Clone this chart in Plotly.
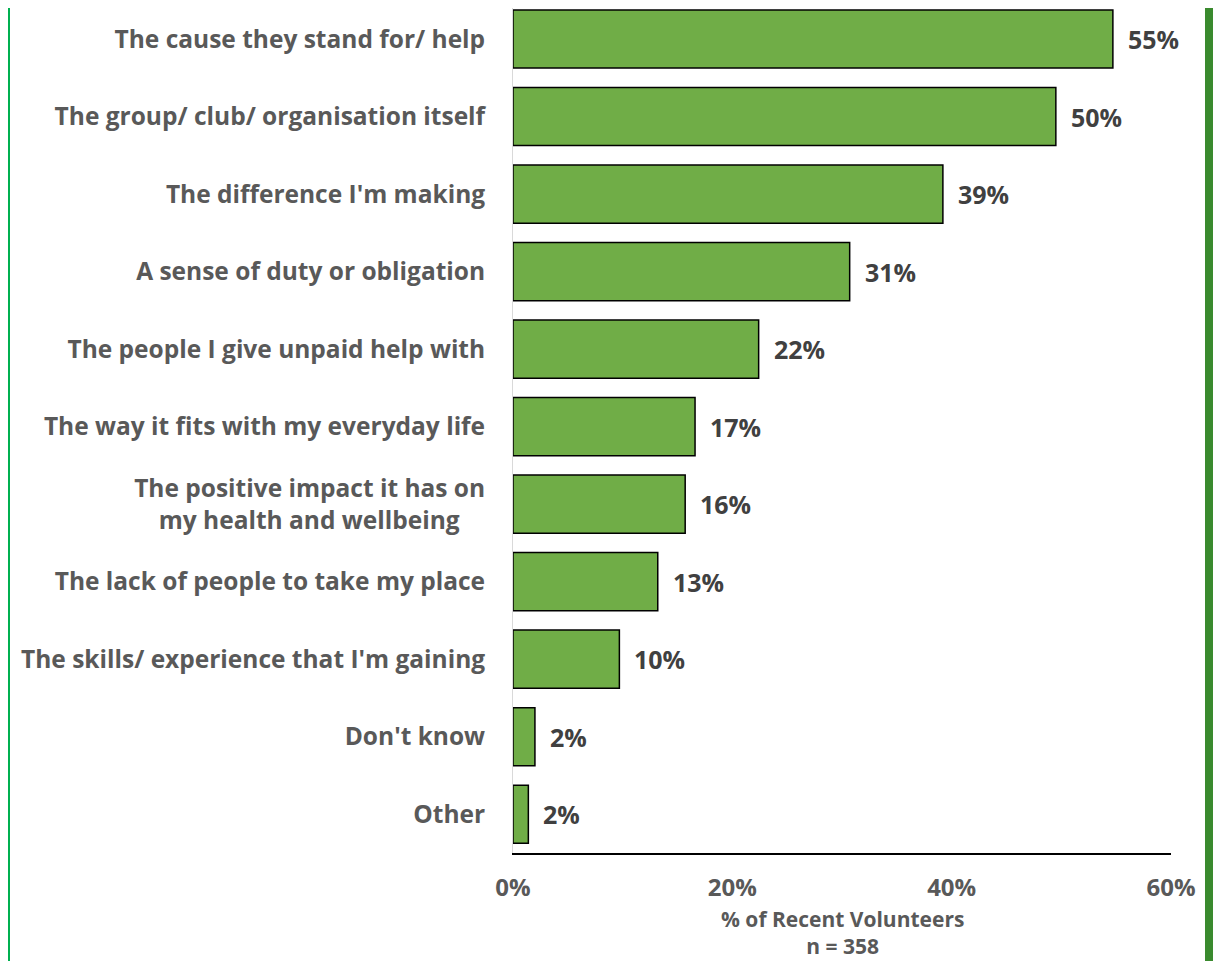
import plotly.graph_objects as go

categories = [
    "The cause they stand for/ help",
    "The group/ club/ organisation itself",
    "The difference I'm making",
    "A sense of duty or obligation",
    "The people I give unpaid help with",
    "The way it fits with my everyday life",
    "The positive impact it has on<br>my health and wellbeing\u00a0\u00a0\u00a0\u00a0",
    "The lack of people to take my place",
    "The skills/ experience that I'm gaining",
    "Don't know",
    "Other",
]
values = [54.7, 49.5, 39.2, 30.7, 22.4, 16.6, 15.7, 13.2, 9.7, 2.0, 1.4]
value_labels = ["55%", "50%", "39%", "31%", "22%", "17%", "16%", "13%", "10%", "2%", "2%"]
x_ticks = [0, 20, 40, 60]
x_tick_labels = ["0%", "20%", "40%", "60%"]
axis_title_lines = ["% of Recent Volunteers", "n = 358"]

FONT = "Open Sans"
# the page body has an 8px margin: keep the figure small enough to avoid scrollbars
W, H = 1205, 953
ML, MR, MT, MB = 505, 42, 0, 108
PW = W - ML - MR
PH = H - MT - MB

fig = go.Figure(go.Bar(
    x=values, y=categories, orientation="h",
    marker=dict(color="#70ad47", line=dict(color="black", width=1.5)),
    width=0.75, hoverinfo="skip",
))

for v, c, lab in zip(values, categories, value_labels):
    fig.add_annotation(x=v, y=c, text=lab, showarrow=False, xanchor="left",
                       xshift=13, font=dict(family=FONT, size=25, color="#404040", weight="bold"))

# axis title (two lines, one text block)
fig.add_annotation(xref="paper", yref="paper", x=0.5, y=0, yanchor="middle", yshift=-79,
                   text="<br>".join(axis_title_lines), showarrow=False, align="center",
                   font=dict(family=FONT, size=21, color="#595959", weight="bold"))

# frame lines at the left and right edges
fig.add_shape(type="rect", xref="paper", yref="paper", x0=(0 - ML) / PW, x1=(2 - ML) / PW,
              y0=-MB / PH - 0.02, y1=1.02, line=dict(width=0), fillcolor="#00b050")
fig.add_shape(type="rect", xref="paper", yref="paper", x0=(1197 - ML) / PW, x1=(1208 - ML) / PW,
              y0=-MB / PH - 0.02, y1=1.02, line=dict(width=0), fillcolor="#3a8a2e")

fig.update_layout(
    width=W, height=H,
    margin=dict(l=ML, r=MR, t=MT, b=MB),
    plot_bgcolor="white", paper_bgcolor="white",
    showlegend=False,
    font=dict(family=FONT, color="#595959"),
    xaxis=dict(range=[0, 60], tickvals=x_ticks, ticktext=x_tick_labels, automargin=False,
               showgrid=False, zeroline=False, showline=True, linecolor="black", linewidth=2,
               ticks="", tickfont=dict(size=24, color="#595959", weight="bold"),
               ticklabelstandoff=12),
    yaxis=dict(range=[10.5, -0.4], showgrid=False, zeroline=False, showline=True, automargin=False,
               linecolor="#d9d9d9", linewidth=1, ticks="",
               tickfont=dict(size=24.5, color="#595959", weight="bold"),
               ticklabelstandoff=22),
)

fig.write_html("out.html")
